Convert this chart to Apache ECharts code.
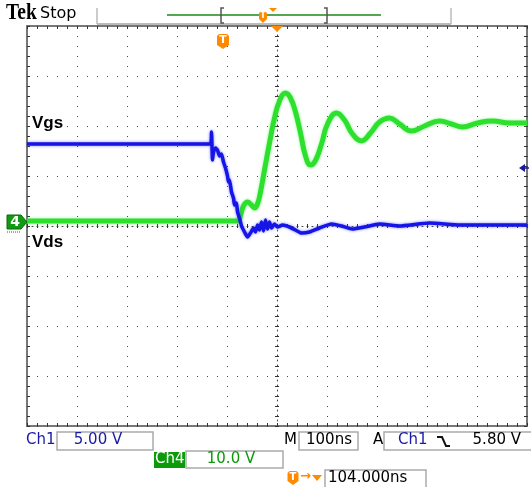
<!DOCTYPE html>
<html>
<head>
<meta charset="utf-8">
<script src="https://cdn.jsdelivr.net/npm/echarts@6.0.0/dist/echarts.min.js"></script>
<style>
html,body{margin:0;padding:0;background:#fff;}
#chart{width:531px;height:487px;}
</style>
</head>
<body>
<div id="chart"></div>
<script>
// ---- Data (time in ns relative to screen centre, volts) ----
// Ch1 (blue), 5 V/div
const ch1Time = [-500,-133,-131,-129,-127,-123,-119,-115,-111,-107,-103,-99,-97,-95,-91,-87,-85,-81,-79,-75,-71,-65,-59,-53,-47,-43,-39,-35,-31,-27,-23,-19,-15,-11,-5,1,11,25,37,49,65,85,109,129,151,175,205,245,305,365,445,500];
const ch1Volts = [8.2,8.2,9.4,6.6,7.4,7.8,7.6,7.0,7.2,6.4,5.8,5.0,4.4,4.6,3.4,2.8,2.1,2.3,1.4,0.8,0.0,-0.6,-1.1,-0.7,-0.2,-0.6,0.1,-0.4,0.4,-0.5,0.6,-0.3,0.4,-0.2,0.2,-0.1,0.1,-0.1,-0.4,-0.7,-0.6,-0.2,0.2,0.0,-0.3,-0.1,0.2,0.0,0.3,0.1,0.1,0.1];
// Ch4 (green), 10 V/div
const ch4Time = [-500,-79,-73,-67,-59,-51,-45,-39,-33,-25,-15,-5,5,17,27,37,47,57,67,77,89,101,119,135,151,169,187,205,225,245,269,295,325,349,371,401,431,465,500];
const ch4Volts = [0.2,0.2,1.4,3.2,4.0,3.4,2.8,3.6,6.0,10.4,15.8,20.8,24.2,25.8,24.8,22.0,17.8,13.2,11.4,12.3,15.6,19.6,21.8,20.4,17.6,16.2,17.8,20.0,20.8,19.6,18.2,19.2,20.2,19.6,19.0,19.8,20.2,19.8,19.8];

const ch1Scale = 5;      // V/div
const ch1Offset = 0;     // ground position in div
const ch4Scale = 10;     // V/div
const ch4Offset = 0.08;  // ground marker position in div
const timeRange = [-500, 500];
const timeDiv = 100;
const divRange = [-4, 4];
const labels = {ch1: 'Vgs', ch4: 'Vds'};
const status = {ch1: '5.00 V', ch4: '10.0 V', time: '100ns', trig: '5.80 V', pos: '104.000ns'};

// screen divisions computed from volts / (V/div) + ground offset
const ch1Data = ch1Time.map((t, i) => [t, ch1Volts[i] / ch1Scale + ch1Offset]);
const ch4Data = ch4Time.map((t, i) => [t, ch4Volts[i] / ch4Scale + ch4Offset]);

const DOT = '#444';
const TICK = '#333';
const ORANGE = '#ff8a00';
const BLUE_TXT = '#1a1aa8';
const GREEN_TXT = '#0b9a0b';
const FONT = '"DejaVu Sans", sans-serif';

function xAx(extra) {
  return Object.assign({
    type: 'value', min: timeRange[0], max: timeRange[1], interval: timeDiv,
    axisLabel: {show: false},
    axisLine: {show: false, onZero: false},
    axisTick: {show: true, inside: true, length: 3, lineStyle: {color: TICK}},
    minorTick: {show: true, splitNumber: 5, length: 3, lineStyle: {color: TICK}},
    splitLine: {show: false}
  }, extra);
}
function yAx(extra) {
  return Object.assign({
    type: 'value', min: divRange[0], max: divRange[1], interval: 1,
    axisLabel: {show: false},
    axisLine: {show: false, onZero: false},
    axisTick: {show: true, inside: true, length: 3, lineStyle: {color: TICK}},
    minorTick: {show: true, splitNumber: 5, length: 3, lineStyle: {color: TICK}},
    splitLine: {show: false}
  }, extra);
}

const chart = echarts.init(document.getElementById('chart'), null, {renderer: 'canvas'});

function txt(x, y, s, color, size, opts) {
  return Object.assign({type: 'text', x: x, y: y, z: 120,
    style: Object.assign({text: s, fill: color, font: (size || 15) + 'px ' + FONT}, (opts && opts.style) || {})},
    opts && opts.el || {});
}
function box(x, y, w, h) {
  return {type: 'rect', z: 90, shape: {x: x, y: y, width: w, height: h},
    style: {fill: '#fff', stroke: '#aaa', lineWidth: 1.5}};
}
function tIcon(cx, top, w, h) {
  return {type: 'group', z: 110, children: [
    {type: 'polygon', z: 110, shape: {points: [[cx - w/2, top + 2], [cx - w/2 + 2, top], [cx + w/2 - 2, top], [cx + w/2, top + 2], [cx + w/2, top + h - 4], [cx, top + h], [cx - w/2, top + h - 4]]},
      style: {fill: ORANGE}},
    {type: 'text', z: 111, x: cx, y: top + 1, style: {text: 'T', fill: '#fff', font: 'bold ' + (h - 4) + 'px ' + FONT, align: 'center', verticalAlign: 'top'}}
  ]};
}

const option = {
  animation: false,
  backgroundColor: '#fff',
  grid: {left: 27, top: 26, width: 500, height: 400, show: true, borderColor: '#777', borderWidth: 2, backgroundColor: 'transparent'},
  xAxis: [
    xAx({position: 'bottom', splitLine: {show: true, lineStyle: {color: DOT, width: 1, type: [1, 9]}}}),
    xAx({position: 'top'}),
    xAx({position: 'bottom', offset: -200, axisLine: {show: true, onZero: false, lineStyle: {color: DOT, width: 1, type: [1, 4]}}, axisTick: {show: true, inside: true, length: 2, lineStyle: {color: TICK}}, minorTick: {show: true, splitNumber: 5, length: 2, lineStyle: {color: TICK}}}),
    xAx({position: 'bottom', offset: -200, axisTick: {show: true, inside: false, length: 2, lineStyle: {color: TICK}}, minorTick: {show: true, splitNumber: 5, length: 2, lineStyle: {color: TICK}}})
  ],
  yAxis: [
    yAx({position: 'left', splitLine: {show: true, lineStyle: {color: DOT, width: 1, type: [1, 9]}}}),
    yAx({position: 'right'}),
    yAx({position: 'left', offset: -250, axisLine: {show: true, onZero: false, lineStyle: {color: DOT, width: 1, type: [1, 4]}}, axisTick: {show: true, inside: true, length: 2, lineStyle: {color: TICK}}, minorTick: {show: true, splitNumber: 5, length: 2, lineStyle: {color: TICK}}}),
    yAx({position: 'left', offset: -250, axisTick: {show: true, inside: false, length: 2, lineStyle: {color: TICK}}, minorTick: {show: true, splitNumber: 5, length: 2, lineStyle: {color: TICK}}})
  ],
  series: [
    {name: 'Ch4', type: 'line', xAxisIndex: 0, yAxisIndex: 0, data: ch4Data, showSymbol: false, smooth: 0.45, z: 5,
      lineStyle: {color: '#2ee02e', width: 5, shadowBlur: 3, shadowColor: 'rgba(90,240,90,0.7)'}},
    {name: 'Ch1', type: 'line', xAxisIndex: 0, yAxisIndex: 0, data: ch1Data, showSymbol: false, smooth: 0.15, z: 6,
      lineStyle: {color: '#1515e6', width: 3.5, shadowBlur: 3, shadowColor: 'rgba(70,70,255,0.7)'}}
  ],
  graphic: [
    // header
    txt(6, 2, 'Tek', '#000', 23, {style: {font: 'bold 23px "Liberation Serif", serif'}, el: {scaleX: 0.85}}),
    txt(40, 6, 'Stop', '#000', 16),
    {type: 'line', z: 80, shape: {x1: 97, y1: 24, x2: 451, y2: 24}, style: {stroke: '#bbb', lineWidth: 2}},
    {type: 'line', z: 80, shape: {x1: 97, y1: 8, x2: 97, y2: 24}, style: {stroke: '#bbb', lineWidth: 1.5}},
    {type: 'line', z: 80, shape: {x1: 451, y1: 8, x2: 451, y2: 24}, style: {stroke: '#bbb', lineWidth: 1.5}},
    {type: 'line', z: 81, shape: {x1: 167, y1: 15, x2: 381, y2: 15}, style: {stroke: '#1a8a1a', lineWidth: 1.5}},
    {type: 'polyline', z: 82, shape: {points: [[224, 8], [221, 8], [221, 23], [224, 23]]}, style: {stroke: '#555', lineWidth: 1.5, fill: null}},
    {type: 'polyline', z: 82, shape: {points: [[324, 8], [327, 8], [327, 23], [324, 23]]}, style: {stroke: '#555', lineWidth: 1.5, fill: null}},
    tIcon(263, 11, 8, 12),
    {type: 'polygon', z: 110, shape: {points: [[269, 8], [277, 8], [273, 12]]}, style: {fill: ORANGE}},
    {type: 'polygon', z: 110, shape: {points: [[271, 26], [283, 26], [277, 32]]}, style: {fill: ORANGE}},
    tIcon(223, 34, 12, 15),
    // channel labels
    txt(32, 115, labels.ch1, '#000', 17, {style: {font: 'bold 17px "Liberation Sans", Arial, sans-serif'}}),
    txt(32, 234, labels.ch4, '#000', 17, {style: {font: 'bold 17px "Liberation Sans", Arial, sans-serif'}}),
    // ch4 ground marker
    {type: 'polygon', z: 110, shape: {points: [[7, 215], [21, 215], [27, 222], [21, 229], [7, 229]]}, style: {fill: '#139a13', stroke: '#0a6a0a', lineWidth: 1}},
    txt(15, 215, '4', '#fff', 14, {style: {font: 'bold 14px ' + FONT, align: 'center'}}),
    {type: 'line', z: 110, shape: {x1: 7, y1: 232, x2: 20, y2: 232}, style: {stroke: '#4040c0', lineWidth: 1, lineDash: [1, 1]}},
    // trigger level arrow
    {type: 'polygon', z: 110, shape: {points: [[519, 168], [525, 164], [525, 172]]}, style: {fill: '#1a1a9a'}},
    {type: 'line', z: 110, shape: {x1: 524, y1: 168, x2: 529, y2: 168}, style: {stroke: '#1a1a9a', lineWidth: 1.5}},
    // bottom status
    txt(26, 433, 'Ch1', BLUE_TXT, 15),
    box(57, 432, 96, 18),
    txt(98, 433, status.ch1, BLUE_TXT, 15, {style: {align: 'center'}}),
    txt(284, 433, 'M', '#000', 15),
    box(299, 432, 59, 18),
    txt(329, 433, status.time, '#000', 15, {style: {align: 'center'}}),
    txt(373, 433, 'A', '#000', 15),
    box(384, 432, 150, 18),
    txt(398, 433, 'Ch1', BLUE_TXT, 15),
    {type: 'polyline', z: 110, shape: {points: [[437, 437], [442, 437], [446, 446], [450, 446]]}, style: {stroke: '#111', lineWidth: 2, fill: null}},
    txt(521, 433, status.trig, '#000', 15, {style: {align: 'right'}}),
    {type: 'rect', z: 95, shape: {x: 154, y: 452, width: 31, height: 16}, style: {fill: '#0a9a0a'}},
    txt(155, 452, 'Ch4', '#fff', 15),
    box(186, 451, 97, 17),
    txt(231, 452, status.ch4, GREEN_TXT, 15, {style: {align: 'center'}}),
    tIcon(293, 471, 11, 14),
    txt(300, 470, '→', ORANGE, 13, {style: {font: 'bold 13px ' + FONT}}),
    {type: 'polygon', z: 110, shape: {points: [[312, 475], [322, 475], [317, 481]]}, style: {fill: ORANGE}},
    box(325, 470, 101, 18),
    txt(328, 471, status.pos, '#000', 15)
  ]
};
chart.setOption(option);
</script>
</body>
</html>
